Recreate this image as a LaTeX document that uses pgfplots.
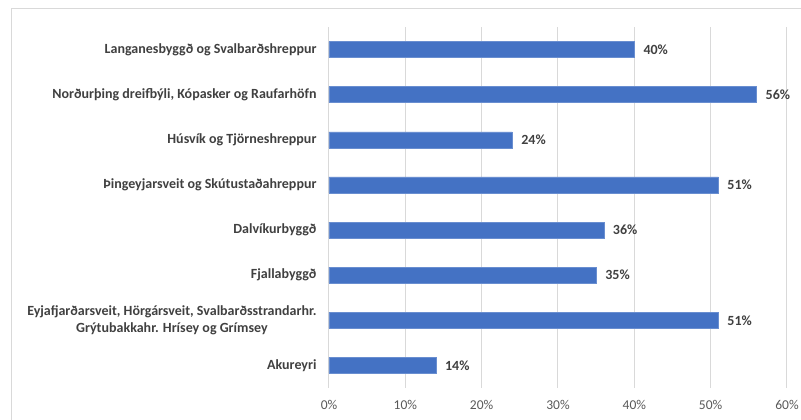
\documentclass[border=0pt]{standalone}
\usepackage{pgfplots}
\pgfplotsset{compat=1.18}
\usepackage{fontspec}
\setmainfont{Carlito}
\definecolor{barblue}{HTML}{4472C4}
\definecolor{gridgray}{HTML}{D9D9D9}
\definecolor{labgray}{HTML}{404040}
\definecolor{tickgray}{HTML}{595959}
\begin{document}
\begin{tikzpicture}[x=1pt,y=1pt]
  \draw[gridgray, line width=1pt] (11,0) -- (11,411) -- (801,411);
  \begin{axis}[
    at={(329pt,32pt)}, anchor=south west,
    scale only axis,
    width=458pt, height=361pt,
    xbar,
    bar width=16pt,
    xmin=0, xmax=60,
    ymin=-0.5, ymax=7.5,
    xtick={0,10,20,30,40,50,60},
    xticklabel={\pgfmathprintnumber{\tick}\%},
    ytick=data,
    yticklabels={
      {Akureyri},
      {Eyjafjarðarsveit, Hörgársveit, Svalbarðsstrandarhr.\\Grýtubakkahr. Hrísey og Grímsey},
      {Fjallabyggð},
      {Dalvíkurbyggð},
      {Þingeyjarsveit og Skútustaðahreppur},
      {Húsvík og Tjörneshreppur},
      {Norðurþing dreifbýli, Kópasker og Raufarhöfn},
      {Langanesbyggð og Svalbarðshreppur}},
    axis line style={draw=none},
    major tick length=0pt,
    xmajorgrids,
    grid style={gridgray, line width=1pt},
    /pgf/number format/assume math mode=true,
    xticklabel style={font=\fontsize{13.5}{15}\selectfont, text=tickgray, yshift=-9pt},
    yticklabel style={font=\bfseries\fontsize{14}{17}\selectfont, text=labgray, align=center, xshift=-9pt},
    nodes near coords={\pgfmathprintnumber{\pgfplotspointmeta}\%},
    point meta=x,
    every node near coord/.append style={font=\bfseries\fontsize{14}{15}\selectfont, text=labgray, anchor=west, inner sep=0pt, xshift=9pt},
  ]
    \addplot[fill=barblue, draw=barblue!80!white] coordinates {
      (14,0) (51,1) (35,2) (36,3) (51,4) (24,5) (56,6) (40,7)
    };
  \end{axis}
  \pgfresetboundingbox
  \path[use as bounding box] (0,0) rectangle (801,420);
\end{tikzpicture}
\end{document}
